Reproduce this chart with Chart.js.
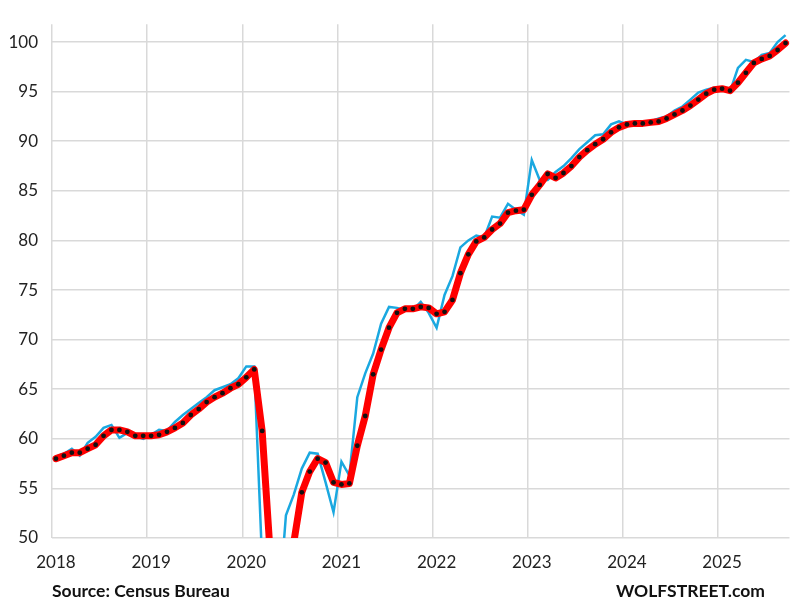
<!DOCTYPE html>
<html>
<head>
<meta charset="utf-8">
<script src="https://cdn.jsdelivr.net/npm/chart.js@4"></script>
<style>
  html, body { margin: 0; background: #fff; }
  #wrap { position: relative; width: 800px; height: 612px; }
</style>
</head>
<body>
<div id="wrap"><canvas id="chart"></canvas></div>
<script>
// Yıllar ve aylar (2018-01 ... 2025-09)
const years = ['2018', '2019', '2020', '2021', '2022', '2023', '2024', '2025'];
const months = [];
years.forEach(y => {
    for (let m = 1; m <= 12; m++) months.push(y + '-' + String(m).padStart(2, '0'));
});
months.length = 93;

// Aylık değerler (mavi çizgi)
const monthly = [
    58.2, 58.5, 59.0, 58.3, 59.6, 60.2, 61.1, 61.4, 60.1, 60.6, 60.3, 60.0,
    60.4, 60.9, 60.8, 61.7, 62.4, 63.0, 63.6, 64.2, 64.9, 65.2, 65.5, 66.1,
    67.3, 67.3, 47.6, 31.0, 42.0, 52.3, 54.4, 57.0, 58.6, 58.5, 55.6, 52.6,
    57.7, 56.3, 64.2, 66.6, 68.6, 71.6, 73.3, 73.2, 73.0, 73.0, 73.8, 72.7,
    71.2, 74.5, 76.4, 79.3, 80.0, 80.5, 80.3, 82.4, 82.3, 83.7, 83.1, 82.6,
    88.1, 86.1, 86.1, 86.9, 87.5, 88.3, 89.2, 89.9, 90.6, 90.7, 91.7, 92.0,
    91.7, 91.7, 91.8, 92.0, 92.3, 92.5, 93.1, 93.5, 94.2, 94.9, 95.2, 95.4,
    95.3, 95.0, 97.4, 98.2, 98.0, 98.7, 98.9, 100.0, 100.7
];

// 3 aylık ortalama (kırmızı çizgi)
const avg3 = [
    58.0, 58.3, 58.6, 58.6, 59.0, 59.4, 60.3, 60.9, 60.9, 60.7, 60.3, 60.3,
    60.3, 60.4, 60.7, 61.1, 61.6, 62.4, 63.0, 63.7, 64.2, 64.6, 65.1, 65.5,
    66.2, 67.0, 60.8, 48.6, 40.2, 41.8, 49.6, 54.6, 56.7, 58.0, 57.6, 55.6,
    55.4, 55.5, 59.3, 62.3, 66.5, 69.0, 71.2, 72.7, 73.1, 73.1, 73.3, 73.2,
    72.6, 72.8, 74.0, 76.7, 78.6, 79.9, 80.3, 81.1, 81.7, 82.8, 83.0, 83.1,
    84.6, 85.6, 86.7, 86.3, 86.8, 87.5, 88.4, 89.1, 89.7, 90.2, 90.9, 91.4,
    91.7, 91.8, 91.8, 91.9, 92.0, 92.3, 92.7, 93.1, 93.6, 94.2, 94.8, 95.2,
    95.3, 95.1, 95.9, 96.9, 97.9, 98.3, 98.6, 99.2, 99.9
];

const GRID = '#d9d9d9';
const FONT = 'Lato, "Open Sans", sans-serif';

// Alt yazılar
const footer = {
    id: 'footer',
    afterDraw(chart) {
        const c = chart.ctx;
        c.save();
        c.font = 'bold 17.5px ' + FONT;
        c.fillStyle = '#111';
        c.textBaseline = 'middle';
        c.textAlign = 'left';
        c.fillText('Source: Census Bureau', 52, 591);
        c.textAlign = 'right';
        c.fillText('WOLFSTREET.com', 765, 591);
        c.restore();
    }
};

new Chart(document.getElementById('chart'), {
    type: 'line',
    data: {
        labels: months,
        datasets: [{
            label: '3-month average',
            data: avg3,
            borderColor: '#ff0000',
            borderWidth: 7,
            borderJoinStyle: 'round',
            borderCapStyle: 'round',
            pointRadius: 2.4,
            pointBackgroundColor: '#111',
            pointBorderWidth: 0,
            tension: 0,
            order: 0
        }, {
            label: 'Monthly',
            data: monthly,
            borderColor: '#1aa8e0',
            borderWidth: 2.5,
            pointRadius: 0,
            tension: 0,
            order: 1
        }]
    },
    options: {
        responsive: true,
        maintainAspectRatio: false,
        animation: false,
        layout: { padding: { top: 10, right: 10.5, left: 0, bottom: 0 } },
        plugins: {
            legend: { display: false },
            tooltip: { enabled: false }
        },
        scales: {
            x: {
                type: 'category',
                offset: true,
                border: { display: false },
                grid: {
                    offset: true,
                    drawTicks: false,
                    lineWidth: 1.5,
                    color: ctx => (months[ctx.index] && months[ctx.index].endsWith('-01')) ? GRID : 'rgba(0,0,0,0)'
                },
                ticks: {
                    autoSkip: false,
                    maxRotation: 0,
                    minRotation: 0,
                    padding: 14,
                    color: '#222',
                    font: { family: FONT, size: 17 },
                    callback: (v, i) => months[i].endsWith('-01') ? months[i].slice(0, 4) : ''
                },
                afterFit: s => { s.height = 74; }
            },
            y: {
                min: 50,
                max: 101.8,
                border: { display: false },
                grid: { color: GRID, lineWidth: 1.5, drawTicks: false },
                ticks: {
                    stepSize: 5,
                    includeBounds: false,
                    padding: 14,
                    color: '#222',
                    font: { family: FONT, size: 17 }
                },
                afterFit: s => { s.width = 52; }
            }
        }
    },
    plugins: [footer]
});
</script>
</body>
</html>
